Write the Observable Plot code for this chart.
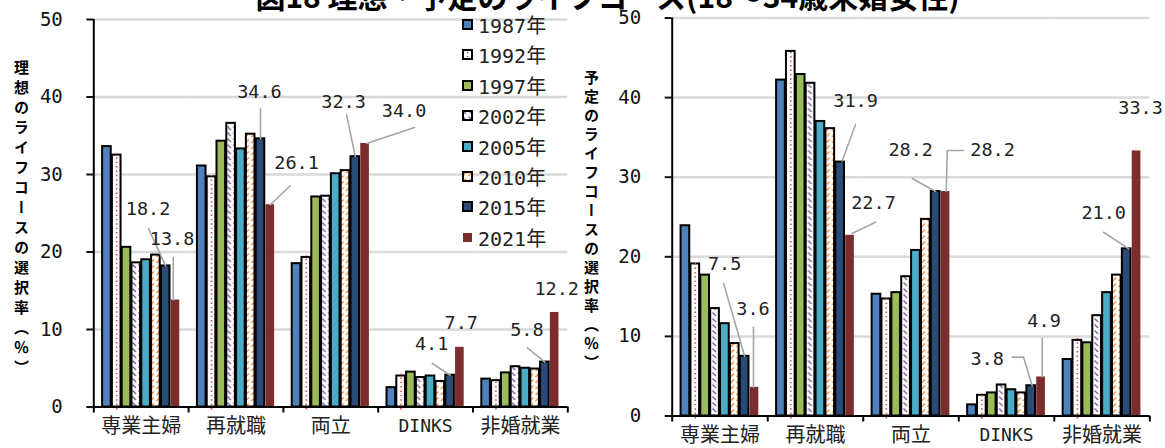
<!DOCTYPE html>
<html>
<head>
<meta charset="utf-8">
<script src="https://cdn.jsdelivr.net/npm/d3@7"></script>
<script src="https://cdn.jsdelivr.net/npm/@observablehq/plot@0.6"></script>
<style>
  html, body { margin: 0; padding: 0; background: #fff; }
  body { width: 1165px; height: 448px; position: relative; overflow: hidden; font-family: "Noto Sans CJK JP", sans-serif; }
  .panel { position: absolute; top: 0; }
  .title { position: absolute; top: -20px; left: 0; width: 1215px; text-align: center; font-size: 30px; font-weight: 700; line-height: 1; white-space: nowrap; color: #000; }
  .ytitle { position: absolute; writing-mode: vertical-rl; font-weight: 700; font-size: 15px; letter-spacing: 5px; line-height: 1; color: #000; white-space: nowrap; }
  .legend { position: absolute; left: 462px; top: 0; width: 100px; height: 260px; }
  .legend .row { position: absolute; left: 0; height: 20px; display: flex; align-items: center; white-space: nowrap;
                 font-family: "DejaVu Sans Mono", "Noto Sans CJK JP", monospace; font-size: 20px; color: #222; }
  .legend svg { margin-right: 5px; display: block; }
  svg g[aria-label="y-axis tick"] { stroke-width: 2px; }
</style>
</head>
<body>
<svg width="0" height="0" style="position:absolute">
  <defs>
    <pattern id="hatch2002" patternUnits="userSpaceOnUse" width="6" height="6">
      <rect width="6" height="6" fill="#fff"/>
      <path d="M0.5,0.5 L4,4" stroke="#8064a2" stroke-width="1.5"/>
    </pattern>
    <pattern id="hatch2010" patternUnits="userSpaceOnUse" width="6" height="6">
      <rect width="6" height="6" fill="#fff"/>
      <path d="M0.5,5 L4,1.5" stroke="#f79646" stroke-width="1.6"/>
    </pattern>
  </defs>
</svg>

<div class="title">図18 理想・予定のライフコース(18～34歳未婚女性)</div>
<div class="ytitle" style="left:14px; top:60px;">理想のライフコースの選択率（％）</div>
<div class="ytitle" style="left:584px; top:70px; letter-spacing:4px;">予定のライフコースの選択率（％）</div>
<div id="left" class="panel" style="left:0"></div>
<div id="right" class="panel" style="left:580px"></div>
<div id="legend" class="legend"></div>

<script>
// Life-course categories and survey years
const categories = ["専業主婦", "再就職", "両立", "DINKS", "非婚就業"];
const years = ["1987年", "1992年", "1997年", "2002年", "2005年", "2010年", "2015年", "2021年"];

// Ideal life course (%), one value per survey year
const idealHousewife    = [33.6, 32.5, 20.6, 18.6, 19.0, 19.6, 18.2, 13.8];
const idealReentry      = [31.1, 29.7, 34.3, 36.6, 33.3, 35.2, 34.6, 26.1];
const idealBalance      = [18.5, 19.3, 27.1, 27.2, 30.1, 30.5, 32.3, 34.0];
const idealDinks        = [2.5, 4.0, 4.5, 3.8, 4.0, 3.3, 4.1, 7.7];
const idealSingleCareer = [3.6, 3.4, 4.4, 5.2, 5.0, 4.9, 5.8, 12.2];

// Planned life course (%), one value per survey year
const planHousewife    = [23.9, 19.1, 17.7, 13.5, 11.6, 9.1, 7.5, 3.6];
const planReentry      = [42.2, 45.8, 42.9, 41.8, 37.0, 36.1, 31.9, 22.7];
const planBalance      = [15.3, 14.7, 15.5, 17.5, 20.8, 24.7, 28.2, 28.2];
const planDinks        = [1.4, 2.6, 2.9, 3.9, 3.3, 2.9, 3.8, 4.9];
const planSingleCareer = [7.1, 9.5, 9.2, 12.6, 15.5, 17.7, 21.0, 33.3];

const yTicks = [0, 10, 20, 30, 40, 50];

// Bar appearance per survey year
const yearStyle = {
  "1987年": {fill: "#4f81bd", stroke: "#000"},
  "1992年": {fill: "#ffffff", stroke: "#000"},
  "1997年": {fill: "#9bbb59", stroke: "#000"},
  "2002年": {fill: "url(#hatch2002)", stroke: "#000"},
  "2005年": {fill: "#4bacc6", stroke: "#000"},
  "2010年": {fill: "url(#hatch2010)", stroke: "#000"},
  "2015年": {fill: "#2b4b77", stroke: "#000"},
  "2021年": {fill: "#7b2c2c", stroke: "none"}
};
const dotColor = "#e8473e";

// Placement of value labels (pixel offsets from the bar top) and their leader lines
const idealLabels = [
  {cat: "専業主婦", year: "2015年", dx: -17.6, dy: -56.4, leader: [[-17, -37], [0, 0]]},
  {cat: "専業主婦", year: "2021年", dx: -3.4, dy: -61, leader: [[-2.2, -42.8], [-2.2, 0]]},
  {cat: "再就職", year: "2015年", dx: -1, dy: -46.8, leader: [[0, -30], [0, 0]]},
  {cat: "再就職", year: "2021年", dx: 26.3, dy: -41.7, leader: [[20, -19], [0, 0]]},
  {cat: "両立", year: "2015年", dx: -11.7, dy: -55, leader: [[-8.7, -42], [0, 0]]},
  {cat: "両立", year: "2021年", dx: 39, dy: -32.4, leader: [[49.5, -16], [1.5, 0]]},
  {cat: "DINKS", year: "2015年", dx: -18.5, dy: -30.7, leader: [[-17.8, -11.7], [0, 0]]},
  {cat: "DINKS", year: "2021年", dx: 1.4, dy: -24.3},
  {cat: "非婚就業", year: "2015年", dx: -18, dy: -31.5, leader: [[-17.6, -14.2], [0, 0]]},
  {cat: "非婚就業", year: "2021年", dx: 2, dy: -23}
];
const planLabels = [
  {cat: "専業主婦", year: "2015年", dx: -20, dy: -91.8, leader: [[-21, -72.8], [0, 0]]},
  {cat: "専業主婦", year: "2021年", dx: -1.5, dy: -78.3, leader: [[-1, -60], [-1, 0]]},
  {cat: "再就職", year: "2015年", dx: 15.4, dy: -60.6, leader: [[15.4, -37.6], [2, -1]]},
  {cat: "再就職", year: "2021年", dx: 23.5, dy: -32.3, leader: [[25.5, -13], [2, -1.8]]},
  {cat: "両立", year: "2015年", dx: -25, dy: -41, leader: [[-23.4, -13], [0, 0]]},
  {cat: "両立", year: "2021年", dx: 47, dy: -41, leader: [[18, -41], [1.7, -41], [0.7, 0]]},
  {cat: "DINKS", year: "2015年", dx: -44, dy: -26.8, leader: [[-19, -28.6], [-7.6, -28.6], [1, 0]]},
  {cat: "DINKS", year: "2021年", dx: 3, dy: -56, leader: [[1.2, -38.5], [1.2, 0]]},
  {cat: "非婚就業", year: "2015年", dx: -23, dy: -35.8, leader: [[-23, -16.6], [2, 0]]},
  {cat: "非婚就業", year: "2021年", dx: 4, dy: -43}
];

const PAD_INNER = 0.12, PAD_OUTER = 0.9;
const numFont = "'DejaVu Sans Mono', 'Noto Sans CJK JP', monospace";

function tableOf(series) {
  return categories.flatMap((cat, i) => years.map((year, j) => ({cat, year, value: series[i][j]})));
}

// Leader line drawn as a polyline relative to the anchor point
function leaderShape(points) {
  return {
    draw(context) {
      context.moveTo(points[0][0], points[0][1]);
      for (const [px, py] of points.slice(1)) context.lineTo(px, py);
    }
  };
}

function drawPanel(series, labels, geom) {
  const rows = tableOf(series);
  const H = 448;
  const innerW = geom.width - geom.marginLeft - geom.marginRight;
  const band = innerW / categories.length;
  const step = band / (years.length - PAD_INNER + 2 * PAD_OUTER);
  const edge = step * PAD_OUTER + step * (1 - PAD_INNER) / 2;
  const unitPx = (H - geom.marginTop - geom.marginBottom) / 50;
  const tickDown = -6 / unitPx;

  const marks = [
    Plot.ruleY(yTicks.slice(1), {stroke: "#d9d9d9", strokeWidth: 2.5})
  ];
  for (const year of years) {
    const st = yearStyle[year];
    marks.push(Plot.barY(rows.filter(d => d.year === year), {
      fx: "cat", x: "year", y: "value", inset: 0,
      fill: st.fill, stroke: st.stroke, strokeWidth: 2
    }));
  }
  // dotted red centre line of the 1992 bars
  marks.push(Plot.ruleX(rows.filter(d => d.year === "1992年"), {
    fx: "cat", x: "year", y1: 0, y2: "value", insetTop: 3, insetBottom: 2,
    stroke: dotColor, strokeWidth: 1.6, strokeDasharray: "1.4,3"
  }));
  // baseline, y-axis line and category boundary ticks
  marks.push(Plot.ruleY([0], {stroke: "#000", strokeWidth: 2}));
  marks.push(Plot.ruleX([categories[0]], {fx: d => d, x: () => years[0], y1: 0, y2: 50, dx: -edge, stroke: "#000", strokeWidth: 2}));
  marks.push(Plot.ruleX(categories, {fx: d => d, x: () => years[0], y1: 0, y2: tickDown, dx: -edge, stroke: "#000", strokeWidth: 2}));
  marks.push(Plot.ruleX([categories[categories.length - 1]], {fx: d => d, x: () => years[years.length - 1], y1: 0, y2: tickDown, dx: edge, stroke: "#000", strokeWidth: 2}));
  // category labels
  marks.push(Plot.text(categories.filter(c => c !== "DINKS"), {
    fx: d => d, text: d => d, frameAnchor: "bottom", dy: 25.5,
    fontFamily: "'Noto Sans CJK JP', sans-serif", fontSize: 20, fill: "#222"
  }));
  marks.push(Plot.text(["DINKS"], {
    fx: d => d, text: d => d, frameAnchor: "bottom", dy: 24.5,
    fontFamily: numFont, fontSize: 18, fill: "#222"
  }));
  // value labels with leader lines
  for (const lab of labels) {
    const d = rows.find(r => r.cat === lab.cat && r.year === lab.year);
    if (lab.leader) {
      marks.push(Plot.vector([d], {
        fx: "cat", x: "year", y: "value", length: 1, rotate: 0, anchor: "start",
        shape: leaderShape(lab.leader), stroke: "#a6a6a6", strokeWidth: 1.6
      }));
    }
    marks.push(Plot.text([d], {
      fx: "cat", x: "year", y: "value", text: r => r.value.toFixed(1),
      dx: lab.dx, dy: lab.dy, fontFamily: numFont, fontSize: 18.5, fill: "#222"
    }));
  }

  return Plot.plot({
    width: geom.width,
    height: H,
    marginLeft: geom.marginLeft,
    marginRight: geom.marginRight,
    marginTop: geom.marginTop,
    marginBottom: geom.marginBottom,
    style: {background: "transparent", overflow: "visible", maxWidth: "none",
            fontFamily: numFont, fontSize: "19px", color: "#111"},
    fx: {domain: categories, paddingInner: 0, paddingOuter: 0, round: false, axis: null, label: null},
    x: {domain: years, paddingInner: PAD_INNER, paddingOuter: PAD_OUTER, round: false, axis: null},
    y: {domain: [0, 50], ticks: yTicks, tickSize: 7, tickPadding: 24, label: null},
    marks
  });
}

const idealSeries = [idealHousewife, idealReentry, idealBalance, idealDinks, idealSingleCareer];
const planSeries = [planHousewife, planReentry, planBalance, planDinks, planSingleCareer];

document.getElementById("left").append(drawPanel(idealSeries, idealLabels,
  {width: 580, marginLeft: 93.3, marginRight: 12.7, marginTop: 19, marginBottom: 41.5}));
document.getElementById("right").append(drawPanel(planSeries, planLabels,
  {width: 585, marginLeft: 91.7, marginRight: 15.7, marginTop: 17.5, marginBottom: 32.5}));

// Legend: one swatch per survey year
const legend = document.getElementById("legend");
years.forEach((year, i) => {
  const st = yearStyle[year];
  const row = document.createElement("div");
  row.className = "row";
  row.style.top = (14.5 + 30.4 * i) + "px";
  const sw = d3.create("svg").attr("width", 11).attr("height", 11);
  sw.append("rect").attr("x", 1).attr("y", 1).attr("width", 9).attr("height", 9)
    .attr("fill", st.fill).attr("stroke", st.stroke === "none" ? null : st.stroke)
    .attr("stroke-width", 2);
  if (year === "1992年") {
    sw.append("path").attr("d", "M5.5,3 L5.5,9").attr("stroke", dotColor)
      .attr("stroke-width", 1.5).attr("stroke-dasharray", "1.4,2.5");
  }
  row.append(sw.node());
  const label = document.createElement("span");
  label.textContent = year;
  row.append(label);
  legend.append(row);
});
</script>
</body>
</html>
